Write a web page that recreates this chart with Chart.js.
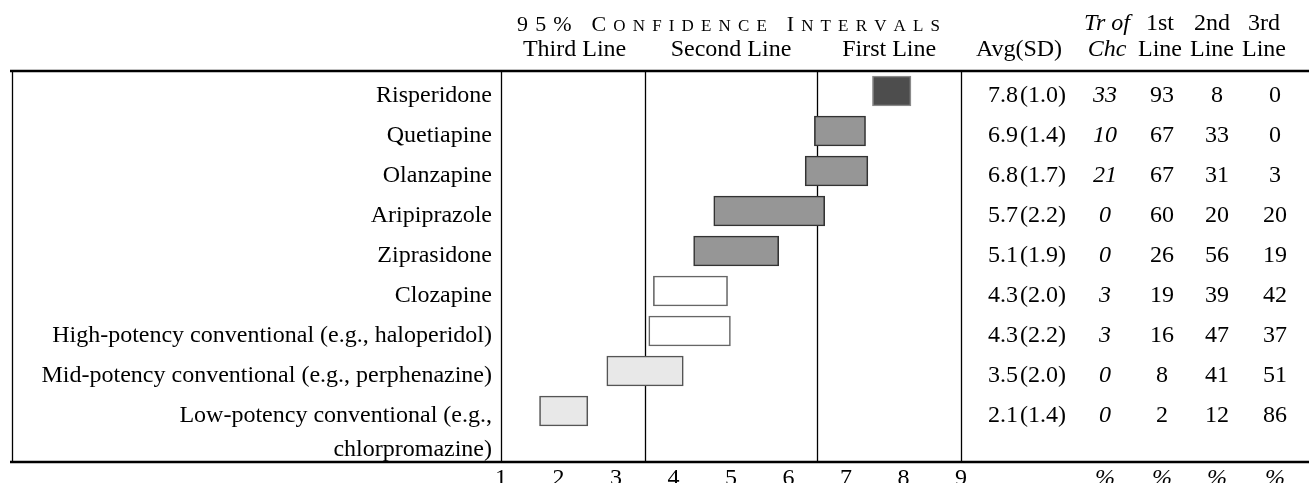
<!DOCTYPE html>
<html>
<head>
<meta charset="utf-8">
<script src="https://cdn.jsdelivr.net/npm/chart.js@4"></script>
<style>
html,body{margin:0;padding:0;background:#fff;}
canvas{display:block;}
</style>
</head>
<body>
<canvas id="c" width="1309" height="483"></canvas>
<script>
// ---- data ----
const drugs = ["Risperidone","Quetiapine","Olanzapine","Aripiprazole","Ziprasidone","Clozapine",
  "High-potency conventional (e.g., haloperidol)","Mid-potency conventional (e.g., perphenazine)",
  "Low-potency conventional (e.g.,\nchlorpromazine)"];
const ciLow  = [7.46, 6.45, 6.29, 4.70, 4.35, 3.65, 3.57, 2.84, 1.67];
const ciHigh = [8.13, 7.34, 7.38, 6.63, 5.83, 4.94, 4.99, 4.17, 2.51];
const avgVals = ["7.8","6.9","6.8","5.7","5.1","4.3","4.3","3.5","2.1"];
const sdVals  = ["(1.0)","(1.4)","(1.7)","(2.2)","(1.9)","(2.0)","(2.2)","(2.0)","(1.4)"];
const trChc   = [33,10,21,0,0,3,3,0,0];
const firstLine  = [93,67,67,60,26,19,16,8,2];
const secondLine = [8,33,31,20,56,39,47,41,12];
const thirdLine  = [0,0,3,20,19,42,37,51,86];
const xTicks = [1,2,3,4,5,6,7,8,9];
const dividers = [3.5, 6.5];
const zoneLabels = ["Third Line","Second Line","First Line"];
const zoneCenters = [2.28, 5.0, 7.75];
const fills   = ["#4d4d4d","#969696","#969696","#969696","#969696","#ffffff","#ffffff","#e8e8e8","#e8e8e8"];
const borders = ["#8a8a8a","#333333","#333333","#333333","#333333","#666666","#666666","#555555","#555555"];

const FONT = '"Liberation Serif", "Times New Roman", serif';

const barData = drugs.map((d,i)=>({x:[ciLow[i], ciHigh[i]], y:i}));

const tablePlugin = {
  id:'tablePlugin',
  beforeDatasetsDraw(chart){
    const ctx = chart.ctx, xs = chart.scales.x, a = chart.chartArea;
    ctx.save();
    ctx.strokeStyle = '#000';
    ctx.lineWidth = 1.3;
    dividers.forEach(v=>{
      const px = Math.round(xs.getPixelForValue(v))+0.5;
      ctx.beginPath(); ctx.moveTo(px, a.top); ctx.lineTo(px, a.bottom); ctx.stroke();
    });
    ctx.restore();
  },
  afterDatasetsDraw(chart){
    const ctx = chart.ctx, xs = chart.scales.x, ys = chart.scales.y, a = chart.chartArea;
    ctx.save();
    // frame
    ctx.strokeStyle = '#000';
    ctx.lineWidth = 1.3;
    [12.5, xs.getPixelForValue(1)+0.5, xs.getPixelForValue(9)+0.5].forEach(px=>{
      ctx.beginPath(); ctx.moveTo(px, a.top); ctx.lineTo(px, a.bottom); ctx.stroke();
    });
    ctx.lineWidth = 2.5;
    [a.top, a.bottom].forEach(py=>{
      ctx.beginPath(); ctx.moveTo(10, py); ctx.lineTo(1309, py); ctx.stroke();
    });
    ctx.fillStyle = '#000';
    // row labels and table cells
    const base = 10.5;
    drugs.forEach((name,i)=>{
      const cy = ys.getPixelForValue(i);
      ctx.font = '24px ' + FONT;
      ctx.textAlign = 'right'; ctx.textBaseline = 'alphabetic';
      name.split('\n').forEach((ln,k)=> ctx.fillText(ln, 492, cy + base + k*34));
      ctx.textAlign = 'left';
      ctx.fillText(avgVals[i], 988, cy + base);
      const w = ctx.measureText(avgVals[i]).width;
      ctx.fillText(sdVals[i], 988 + w + 2, cy + base);
      ctx.textAlign = 'center';
      ctx.fillText(String(firstLine[i]), 1162, cy + base);
      ctx.fillText(String(secondLine[i]), 1217, cy + base);
      ctx.fillText(String(thirdLine[i]), 1275, cy + base);
      ctx.font = 'italic 24px ' + FONT;
      ctx.fillText(String(trChc[i]), 1105, cy + base);
    });
    // x ticks
    ctx.font = '24px ' + FONT;
    ctx.textAlign = 'center';
    xTicks.forEach(t=> ctx.fillText(String(t), xs.getPixelForValue(t), 485));
    ctx.font = 'italic 24px ' + FONT;
    [1105,1162,1217,1275].forEach(x=> ctx.fillText('%', x, 485));
    // headers
    ctx.font = '24px ' + FONT;
    zoneLabels.forEach((t,k)=> ctx.fillText(t, xs.getPixelForValue(zoneCenters[k]), 56));
    ctx.fillText('Avg(SD)', 1019, 56);
    ctx.fillText('Line', 1160, 56);
    ctx.fillText('Line', 1212, 56);
    ctx.fillText('Line', 1264, 56);
    ctx.fillText('1st', 1160, 30);
    ctx.fillText('2nd', 1212, 30);
    ctx.fillText('3rd', 1264, 30);
    ctx.font = 'italic 24px ' + FONT;
    ctx.fillText('Tr of', 1107, 30);
    ctx.fillText('Chc', 1107, 56);
    // small caps spaced title
    const L = 22, S = 17;
    const title = [['9',L],['5',L],['%',L],[' ',L],['C',L],['O',S],['N',S],['F',S],['I',S],['D',S],['E',S],['N',S],['C',S],['E',S],[' ',L],['I',L],['N',S],['T',S],['E',S],['R',S],['V',S],['A',S],['L',S],['S',S]];
    let natural = 0;
    title.forEach(([ch,sz])=>{ ctx.font = sz+'px '+FONT; natural += ctx.measureText(ch).width; });
    const x0 = 517, x1 = 940;
    const gap = (x1 - x0 - natural) / (title.length - 1);
    let cx = x0;
    ctx.textAlign = 'left';
    title.forEach(([ch,sz])=>{
      ctx.font = sz+'px '+FONT;
      ctx.fillText(ch, cx, 31);
      cx += ctx.measureText(ch).width + gap;
    });
    ctx.restore();
  }
};

new Chart(document.getElementById('c'), {
  type:'bar',
  data:{
    datasets:[{
      data: barData,
      backgroundColor: fills,
      borderColor: borders,
      borderWidth: 1.6,
      borderSkipped: false,
      barThickness: 30
    }]
  },
  options:{
    indexAxis:'y',
    responsive:false,
    animation:false,
    devicePixelRatio:1,
    layout:{padding:{left:501, right:348, top:71, bottom:21}},
    plugins:{legend:{display:false}, tooltip:{enabled:false}},
    scales:{
      x:{type:'linear', min:1, max:9, display:false, offset:false},
      y:{type:'linear', min:-0.5, max:9.275, reverse:true, display:false, offset:false}
    }
  },
  plugins:[tablePlugin]
});
</script>
</body>
</html>
